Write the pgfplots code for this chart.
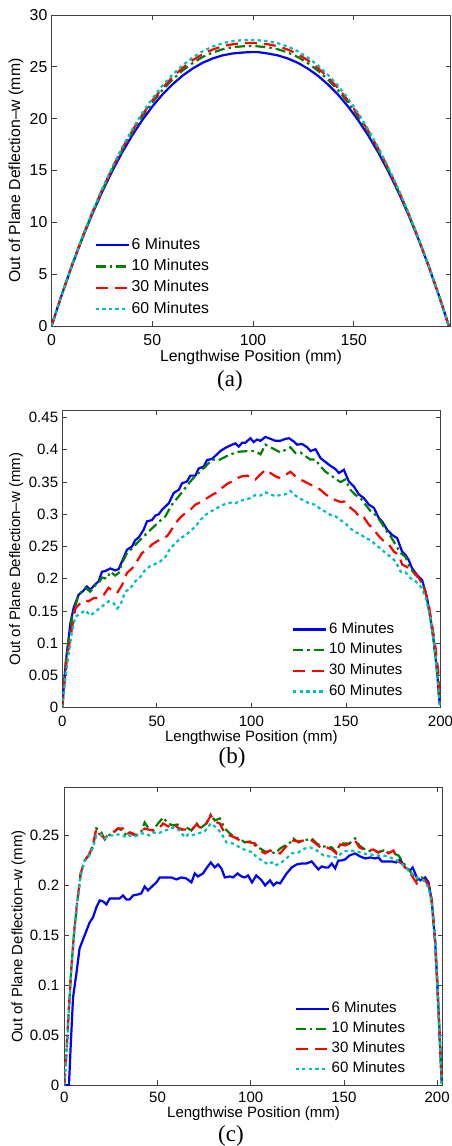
\documentclass[border=0pt]{standalone}
\usepackage{pgfplots}
\pgfplotsset{compat=1.18}
\usepackage{pgfplotstable}
\usepackage{fontspec}
\setmainfont{Liberation Serif}
\setsansfont{Liberation Sans}
\definecolor{mblue}{rgb}{0,0,1}
\definecolor{mgreen}{rgb}{0,0.5,0}
\definecolor{mred}{rgb}{1,0,0}
\definecolor{mcyan}{rgb}{0,0.75,0.75}
\newcommand\fa{\sffamily\fontsize{15.8}{18}\selectfont}
\newcommand\fb{\sffamily\fontsize{15}{17}\selectfont}
\newcommand\fcap{\rmfamily\fontsize{23}{23}\selectfont}

\pgfplotstableread{
x b g r c
0 0 0 0 0
5 2.96 2.97 2.97 2.98
10 5.74 5.77 5.78 5.80
15 8.31 8.37 8.40 8.43
20 10.69 10.79 10.84 10.89
25 12.88 13.02 13.09 13.17
30 14.89 15.08 15.18 15.27
35 16.72 16.96 17.08 17.20
40 18.37 18.66 18.81 18.95
45 19.85 20.19 20.36 20.53
50 21.16 21.55 21.74 21.93
55 22.32 22.75 22.96 23.18
60 23.30 23.77 24.00 24.23
65 24.14 24.64 24.89 25.14
70 24.83 25.36 25.63 25.89
75 25.39 25.95 26.22 26.50
80 25.81 26.38 26.67 26.96
85 26.11 26.70 26.99 27.28
90 26.29 26.89 27.18 27.48
95 26.38 26.98 27.28 27.58
98.6 26.42 27.00 27.30 27.60
102.2 26.42 26.98 27.28 27.58
104 26.38 26.94 27.24 27.53
107.2 26.29 26.89 27.18 27.48
112.2 26.11 26.70 26.99 27.28
117.2 25.81 26.38 26.67 26.96
122.2 25.39 25.95 26.22 26.50
127.2 24.83 25.36 25.63 25.89
132.2 24.14 24.64 24.89 25.14
137.2 23.30 23.77 24.00 24.23
142.2 22.32 22.75 22.96 23.18
147.2 21.16 21.55 21.74 21.93
152.2 19.85 20.19 20.36 20.53
157.2 18.37 18.66 18.81 18.95
162.2 16.72 16.96 17.08 17.20
167.2 14.89 15.08 15.18 15.27
172.2 12.88 13.02 13.09 13.17
177.2 10.69 10.79 10.84 10.89
182.2 8.31 8.37 8.40 8.43
187.2 5.74 5.77 5.78 5.80
192.2 2.96 2.97 2.97 2.98
197.2 0 0 0 0
}\dataA

\pgfplotsset{
  mbase/.style={
    scale only axis, anchor=south west,
    axis line style={black!75, line width=0.8pt},
    every tick/.style={black!75, line width=0.8pt},
    tick align=inside, major tick length=5pt,
    xtick pos=both, ytick pos=both,
    clip=true,
    legend cell align=left,
    legend image code/.code={\draw[##1] (0pt,0pt) -- (33pt,0pt);},
  },
  sblue/.style={mblue, line width=2.2pt},
  sgreen/.style={mgreen, line width=2.2pt, dash pattern=on 10pt off 4pt on 2.5pt off 4pt},
  sred/.style={mred, line width=2.2pt, dash pattern=on 12pt off 7pt},
  scyan/.style={mcyan, line width=2.2pt, dash pattern=on 3.3pt off 3.3pt},
}

\begin{document}
\begin{tikzpicture}
\useasboundingbox (0pt,0pt) rectangle (452pt,1146pt);

% ---------------- (a)
\begin{axis}[mbase,
  at={(51.5pt,820pt)}, width=399pt, height=311pt,
  xmin=0, xmax=198, ymin=0, ymax=30,
  xtick={0,50,100,150}, xticklabels={0,50,100,150},
  ytick={0,5,10,15,20,25,30}, yticklabels={0,5,10,15,20,25,30},
  xticklabel style={font=\fa, anchor=center, inner sep=0pt, yshift=-14.5pt},
  yticklabel style={font=\fa, anchor=east, inner sep=0pt, xshift=-4pt},
  every axis x label/.style={at={(rel axis cs:0.5,0)}, anchor=center, yshift=-31pt, font=\fa},
  every axis y label/.style={at={(rel axis cs:0,0.5)}, anchor=center, xshift=-35.5pt, rotate=90, font=\fa},
  xlabel={Lengthwise Position (mm)},
  ylabel={Out of Plane Deflection–w (mm)},
  legend style={at={(rel axis cs:0.1073,0.2894)}, anchor=north west, draw=none, fill=none,
    font=\fa, inner sep=0pt, row sep=3.3pt, nodes={inner sep=2pt, text height=11pt, text depth=3pt}},
]
\addplot[sblue] table[x=x,y=b] {\dataA};
\addplot[sgreen] table[x=x,y=g] {\dataA};
\addplot[sred] table[x=x,y=r] {\dataA};
\addplot[scyan] table[x=x,y=c] {\dataA};
\legend{6 Minutes,10 Minutes,30 Minutes,60 Minutes}
\end{axis}
\node[font=\fcap] at (230pt,765pt) {(a)};

% ---------------- (b)
\begin{axis}[mbase,
  at={(62.3pt,438.3pt)}, width=378.2pt, height=297.2pt,
  xmin=0, xmax=200, ymin=0, ymax=0.461,
  xtick={0,50,100,150,200}, xticklabels={0,50,100,150,200},
  ytick={0,0.05,0.1,0.15,0.2,0.25,0.3,0.35,0.4,0.45},
  yticklabels={0,0.05,0.1,0.15,0.2,0.25,0.3,0.35,0.4,0.45},
  xticklabel style={font=\fb, anchor=center, inner sep=0pt, yshift=-14pt},
  yticklabel style={font=\fb, anchor=east, inner sep=0pt, xshift=-4pt},
  every axis x label/.style={at={(rel axis cs:0.5,0)}, anchor=center, yshift=-29.6pt, font=\fb},
  every axis y label/.style={at={(rel axis cs:0,0.5)}, anchor=center, xshift=-46pt, rotate=90, font=\fb},
  xlabel={Lengthwise Position (mm)},
  ylabel={Out of Plane Deflection–w (mm)},
  legend style={at={(rel axis cs:0.6066,0.2934)}, anchor=north west, draw=none, fill=none,
    font=\fb, inner sep=0pt, row sep=3.2pt, nodes={inner sep=2pt, text height=10.5pt, text depth=3pt}},
]
\addplot[sblue] coordinates {(0,0) (1,0.04) (2,0.075) (3.4,0.108) (4.2,0.130) (6,0.155) (8.6,0.175) (11,0.181) (13,0.188) (14.8,0.183) (17.5,0.1915) (19.2,0.196) (21,0.211) (22.8,0.212) (25.4,0.216) (28,0.213) (29.8,0.215) (31.6,0.227) (34.2,0.245) (36.9,0.250) (38.6,0.260) (40.4,0.264) (43,0.276) (44.8,0.289) (47.4,0.291) (49.2,0.298) (51,0.300) (52.7,0.307) (56.3,0.317) (58.9,0.333) (61.6,0.338) (63.3,0.348) (66,0.351) (67.7,0.360) (70.4,0.360) (72.1,0.371) (74.8,0.374) (76.5,0.384) (79.2,0.386) (81.8,0.393) (83.6,0.398) (86.2,0.403) (89.8,0.408) (91.5,0.410) (93.3,0.405) (95.1,0.411) (96.8,0.411) (99.5,0.418) (101.2,0.412) (103,0.416) (104.8,0.414) (107.4,0.420) (110.1,0.417) (112.7,0.414) (115.3,0.414) (118,0.417) (119.8,0.418) (122.4,0.413) (124.2,0.408) (126.8,0.409) (129.5,0.404) (131.3,0.398) (133.9,0.401) (136.6,0.387) (139.2,0.381) (141.9,0.375) (144.5,0.370) (146.3,0.364) (148.9,0.369) (151.5,0.351) (154.2,0.343) (156.8,0.331) (159.5,0.325) (162.1,0.315) (164.8,0.310) (167.4,0.294) (169.1,0.289) (171.8,0.276) (174.4,0.268) (177.1,0.263) (179.7,0.242) (181.5,0.237) (183.2,0.229) (185,0.216) (187.6,0.206) (190.3,0.198) (192.9,0.170) (194.7,0.139) (196.5,0.102) (198.2,0.056) (199.6,0.004)};
\addplot[sgreen] coordinates {(0,0) (1,0.04) (2,0.075) (3.4,0.108) (5.1,0.139) (8.6,0.175) (12.2,0.186) (14.8,0.180) (17.5,0.190) (19.2,0.193) (21,0.202) (23.6,0.200) (25.4,0.211) (28,0.205) (29.8,0.209) (31.6,0.224) (34.2,0.240) (36.9,0.247) (40.4,0.258) (43.9,0.268) (47.4,0.278) (51,0.288) (54.5,0.297) (58,0.315) (61.6,0.328) (65.1,0.341) (68.6,0.354) (72.1,0.364) (75.7,0.374) (79.2,0.385) (82.7,0.384) (85.5,0.388) (88,0.392) (93.3,0.397) (97.7,0.398) (102.1,0.398) (104.8,0.393) (107.4,0.408) (110.1,0.404) (112.7,0.400) (115.3,0.396) (118,0.400) (120.6,0.404) (123.3,0.395) (125.9,0.396) (128.6,0.390) (131.2,0.385) (133.9,0.385) (136.5,0.374) (139.2,0.366) (141.8,0.361) (144.5,0.355) (147.1,0.350) (149.7,0.354) (152.4,0.338) (155,0.330) (157.7,0.325) (160.3,0.315) (163,0.305) (165.6,0.299) (168.3,0.289) (170.9,0.276) (173.6,0.266) (176.2,0.253) (178.9,0.240) (181.5,0.234) (184.1,0.216) (186.8,0.206) (189.4,0.198) (192.1,0.180) (194.7,0.139) (196.5,0.102) (198.2,0.056) (199.6,0.004)};
\addplot[sred] coordinates {(0,0) (1,0.035) (2.5,0.077) (4.8,0.118) (6.9,0.154) (9.5,0.162) (12.2,0.166) (13.9,0.165) (16.6,0.170) (19.2,0.170) (21.9,0.175) (24.5,0.186) (27.2,0.180) (29,0.178) (31.6,0.190) (34.2,0.209) (36.9,0.216) (39.5,0.227) (42.2,0.240) (44.8,0.245) (47.4,0.253) (50.1,0.258) (52.7,0.263) (55.4,0.266) (57.1,0.273) (59.8,0.286) (62.4,0.295) (65.1,0.302) (67.7,0.307) (70.4,0.315) (73.9,0.320) (76.5,0.325) (79.2,0.330) (81.8,0.334) (84.5,0.341) (87.1,0.347) (89.8,0.351) (92.4,0.356) (95.1,0.359) (97.7,0.360) (100.4,0.357) (102.1,0.354) (104.8,0.362) (107.4,0.369) (110.1,0.364) (112.7,0.359) (115.3,0.356) (118,0.361) (120.6,0.366) (123.3,0.359) (125.9,0.354) (128.6,0.350) (131.2,0.346) (133.9,0.343) (136.5,0.338) (139.2,0.331) (141.8,0.326) (144.5,0.322) (147.1,0.319) (149.7,0.320) (152.4,0.310) (155,0.304) (157.7,0.294) (159.5,0.295) (162.1,0.284) (164.8,0.276) (167.4,0.266) (170.1,0.258) (172.7,0.253) (175.4,0.242) (178,0.237) (179.7,0.222) (183.2,0.217) (185.9,0.211) (188.6,0.201) (191.2,0.188) (193.8,0.159) (195.6,0.128) (197.4,0.092) (198.8,0.056) (200,0.004)};
\addplot[scyan] coordinates {(0,0) (1,0.03) (2.5,0.066) (5.1,0.118) (6.9,0.141) (9.5,0.146) (12.2,0.151) (14.8,0.143) (17.5,0.149) (21,0.157) (24.5,0.165) (27.2,0.162) (29,0.154) (30.7,0.159) (33.3,0.180) (36,0.185) (38.6,0.196) (41.3,0.203) (43.9,0.214) (46.6,0.220) (49.2,0.223) (51.9,0.227) (54.5,0.234) (57.1,0.247) (59.8,0.255) (62.4,0.263) (65.1,0.267) (67.7,0.274) (70.4,0.281) (73,0.291) (75.7,0.299) (78.3,0.304) (81,0.308) (83.6,0.313) (86.2,0.316) (88.9,0.318) (91.5,0.317) (94.2,0.321) (96.8,0.323) (99.5,0.325) (102.1,0.330) (104.8,0.329) (107.4,0.334) (110.1,0.331) (112.7,0.328) (115.3,0.330) (118,0.331) (120.6,0.336) (123.3,0.329) (125.9,0.324) (128.6,0.320) (131.2,0.316) (133.9,0.315) (136.5,0.308) (139.2,0.304) (141.8,0.299) (144.5,0.297) (147.1,0.291) (149.7,0.286) (152.4,0.278) (155,0.272) (157.7,0.269) (160.3,0.263) (163,0.260) (165.6,0.253) (168.3,0.247) (170.9,0.240) (173.6,0.234) (176.2,0.227) (178.9,0.211) (181.5,0.210) (184.1,0.201) (186.8,0.196) (189.4,0.188) (192.1,0.172) (194.7,0.139) (196.5,0.102) (198.2,0.056) (199.6,0.004)};
\legend{6 Minutes,10 Minutes,30 Minutes,60 Minutes}
\end{axis}
\node[font=\fcap] at (232pt,388pt) {(b)};

% ---------------- (c)
\begin{axis}[mbase,
  at={(64.3pt,60.7pt)}, width=378.4pt, height=297.8pt,
  xmin=0, xmax=203, ymin=0, ymax=0.298,
  xtick={0,50,100,150,200}, xticklabels={0,50,100,150,200},
  ytick={0,0.05,0.1,0.15,0.2,0.25},
  yticklabels={0,0.05,0.1,0.15,0.2,0.25},
  xticklabel style={font=\fb, anchor=center, inner sep=0pt, yshift=-12.5pt},
  yticklabel style={font=\fb, anchor=east, inner sep=0pt, xshift=-5pt},
  every axis x label/.style={at={(rel axis cs:0.5,0)}, anchor=center, yshift=-28pt, font=\fb},
  every axis y label/.style={at={(rel axis cs:0,0.5)}, anchor=center, xshift=-45.7pt, rotate=90, font=\fb},
  xlabel={Lengthwise Position (mm)},
  ylabel={Out of Plane Deflection–w (mm)},
  legend style={at={(rel axis cs:0.6078,0.2866)}, anchor=north west, draw=none, fill=none,
    font=\fb, inner sep=0pt, row sep=2.5pt, nodes={inner sep=2pt, text height=10.5pt, text depth=3pt}},
]
\addplot[sblue] coordinates {(0,0) (2.5,0) (3.4,0.038) (4.7,0.088) (6.5,0.112) (8.2,0.137) (10.9,0.150) (13.6,0.163) (15.4,0.168) (17.2,0.178) (19,0.185) (20.8,0.184) (22.6,0.181) (24.4,0.187) (27.1,0.187) (29.7,0.187) (31.5,0.190) (33.3,0.186) (35.1,0.186) (36.9,0.190) (39.6,0.191) (41.3,0.192) (43.1,0.199) (44.9,0.195) (47.6,0.200) (49.4,0.203) (51.2,0.208) (53.8,0.208) (57.4,0.208) (60.1,0.206) (62.8,0.208) (65.5,0.207) (68.2,0.203) (70,0.212) (71.7,0.209) (74.4,0.212) (76.2,0.217) (78.6,0.223) (80.7,0.218) (82.5,0.221) (84.3,0.217) (86.1,0.208) (88.8,0.209) (90.5,0.208) (92.9,0.212) (95,0.209) (96.8,0.208) (98.6,0.210) (100.7,0.203) (103,0.210) (105.9,0.205) (107.7,0.200) (110.4,0.205) (112.2,0.200) (114,0.203) (115.8,0.202) (117.5,0.207) (119.3,0.212) (122,0.218) (124.7,0.221) (127.4,0.222) (130,0.222) (132.7,0.224) (134.5,0.220) (136.3,0.216) (138.1,0.219) (139.9,0.218) (141.7,0.218) (143.5,0.222) (145.3,0.217) (147,0.225) (148.8,0.225) (150.6,0.226) (153,0.230) (156,0.232) (158.7,0.229) (161.4,0.227) (164.1,0.228) (166.7,0.227) (168.5,0.228) (170.3,0.224) (173,0.224) (175.7,0.224) (178,0.223) (180.2,0.226) (182.8,0.218) (185.5,0.215) (186.9,0.218) (189.1,0.208) (191.2,0.205) (193.6,0.208) (195.4,0.203) (197.1,0.185) (198.9,0.145) (200.2,0.098) (201.3,0.052) (202.5,0.002)};
\addplot[sgreen] coordinates {(0,0) (1.1,0.032) (2.3,0.072) (3.8,0.118) (5.2,0.152) (7,0.185) (8.8,0.212) (10.9,0.225) (13.1,0.230) (15.4,0.240) (17.2,0.257) (18.5,0.255) (19.9,0.253) (21.7,0.246) (23.5,0.250) (26.1,0.252) (28.8,0.257) (31.5,0.255) (33.3,0.250) (35.1,0.253) (36.9,0.252) (38.6,0.250) (41.3,0.254) (43.1,0.263) (44.9,0.258) (47.6,0.255) (50.3,0.262) (53,0.268) (55.7,0.262) (58.3,0.260) (60.7,0.261) (63.2,0.256) (65.5,0.258) (68.2,0.255) (70.9,0.262) (73.5,0.258) (76.2,0.262) (78.6,0.271) (80.7,0.265) (83.4,0.267) (86.1,0.257) (88.8,0.252) (91.5,0.248) (94.1,0.247) (96.8,0.243) (99.7,0.244) (102.3,0.240) (105,0.237) (107.7,0.234) (110.4,0.234) (113.1,0.232) (115.8,0.237) (118.5,0.240) (121.2,0.243) (122.9,0.247) (125.6,0.243) (128.3,0.245) (131,0.246) (132.7,0.247) (135.5,0.242) (138.1,0.239) (140.8,0.239) (143.5,0.238) (145.9,0.233) (148,0.242) (150.6,0.242) (153,0.242) (156,0.247) (158.3,0.240) (160.5,0.237) (163.1,0.234) (165.8,0.235) (168.5,0.233) (171.2,0.235) (173.9,0.233) (176.6,0.232) (179.3,0.230) (181,0.225) (183.7,0.218) (186.4,0.212) (189.1,0.205) (191.8,0.208) (193.6,0.205) (195.4,0.200) (197.1,0.185) (198.9,0.145) (200.2,0.098) (201.3,0.052) (202.5,0.002)};
\addplot[sred] coordinates {(0,0) (1.1,0.032) (2.3,0.072) (3.8,0.118) (5.2,0.152) (7,0.185) (8.8,0.212) (10.9,0.225) (13.1,0.230) (15.4,0.240) (17.2,0.257) (18.5,0.252) (19.9,0.250) (21.7,0.247) (23.5,0.251) (26.1,0.253) (28.8,0.257) (31.5,0.257) (33.3,0.251) (35.1,0.253) (36.9,0.251) (38.6,0.250) (41.3,0.254) (43.1,0.257) (44.9,0.256) (47.6,0.255) (50.3,0.256) (53,0.262) (55.7,0.259) (58.3,0.262) (60.7,0.258) (63.2,0.256) (65.5,0.256) (68.2,0.255) (70.9,0.261) (73.5,0.257) (76.2,0.262) (78.6,0.270) (80.7,0.264) (83.4,0.262) (86.1,0.252) (88.8,0.250) (91.5,0.248) (94.1,0.245) (96.8,0.244) (99.7,0.243) (102.3,0.242) (105,0.235) (107.7,0.232) (110.4,0.235) (113.1,0.233) (115.8,0.232) (118.5,0.238) (121.2,0.243) (122.9,0.245) (125.6,0.244) (128.3,0.245) (131,0.246) (132.7,0.245) (135.5,0.241) (138.1,0.237) (140.8,0.238) (143.5,0.236) (145.9,0.232) (148,0.241) (150.6,0.240) (153,0.242) (156,0.245) (158.3,0.238) (160.5,0.236) (163.1,0.235) (165.8,0.236) (168.5,0.233) (171.2,0.236) (173.9,0.232) (176.6,0.235) (179.3,0.224) (181,0.222) (183.7,0.216) (186.4,0.210) (189.1,0.202) (191.8,0.207) (193.6,0.205) (195.4,0.201) (197.1,0.185) (198.9,0.145) (200.2,0.098) (201.3,0.052) (202.5,0.002)};
\addplot[scyan] coordinates {(0,0) (1.1,0.03) (2.3,0.07) (3.8,0.116) (5.2,0.150) (7,0.183) (8.8,0.210) (10.9,0.224) (13.1,0.229) (15.4,0.238) (17.2,0.250) (19.9,0.251) (21.7,0.247) (23.5,0.250) (26.1,0.250) (28.8,0.251) (30.6,0.251) (33.3,0.248) (35.1,0.250) (37.8,0.249) (41.3,0.252) (43.1,0.252) (45.8,0.250) (48,0.253) (50.3,0.252) (53.9,0.255) (56,0.256) (58.3,0.258) (61.9,0.255) (64.6,0.248) (66.5,0.251) (68.2,0.250) (71.8,0.252) (75.3,0.254) (78.6,0.262) (81.6,0.258) (84.3,0.252) (87,0.243) (90.5,0.242) (94.1,0.238) (97.7,0.235) (101.3,0.233) (102.3,0.230) (105.9,0.225) (109.5,0.221) (111.3,0.223) (113.1,0.220) (115.8,0.222) (118.5,0.226) (122,0.232) (125.6,0.233) (129.2,0.237) (131.9,0.238) (135.5,0.235) (139.1,0.230) (142.6,0.229) (146.2,0.228) (149.8,0.234) (153.3,0.235) (156.9,0.234) (160.5,0.232) (164.1,0.231) (167.7,0.230) (171.2,0.230) (174.8,0.228) (178.4,0.225) (182,0.220) (185.5,0.213) (189.1,0.208) (192.7,0.205) (195.4,0.198) (197.1,0.182) (198.9,0.145) (200.2,0.098) (201.3,0.052) (202.5,0.002)};
\legend{6 Minutes,10 Minutes,30 Minutes,60 Minutes}
\end{axis}
\node[font=\fcap] at (231pt,10pt) {(c)};
\end{tikzpicture}
\end{document}
